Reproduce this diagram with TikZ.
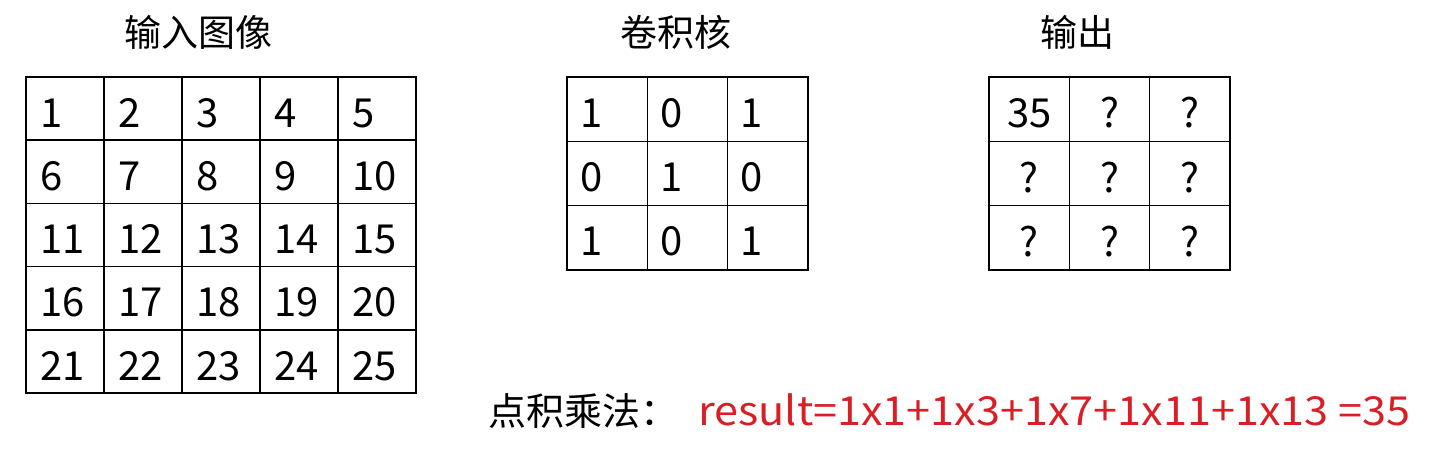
\documentclass[tikz,border=0pt]{standalone}
\usepackage{fontspec}
\setmainfont{Noto Sans CJK SC}
\definecolor{formulared}{RGB}{218,30,38}
\begin{document}
\begin{tikzpicture}[x=1pt,y=1pt,
  gridline/.style={black, line width=1.6pt},
  num/.style={anchor=west, inner sep=0pt, font=\fontsize{40}{40}\selectfont},
  qnum/.style={inner sep=0pt, font=\fontsize{40}{40}\selectfont},
  title/.style={inner sep=0pt, font=\fontsize{37}{37}\selectfont}]
\useasboundingbox (0,0) rectangle (1429,451);
% titles
\node[title] (tin) at (198,419) {输入图像};
\node[title] (tker) at (676,419) {卷积核};
\node[title] (tout) at (1077,419) {输出};
% input image
\foreach \r in {0,...,4} \foreach \c in {0,...,4} {
  \pgfmathtruncatemacro{\n}{5*\r+\c+1}
  \draw[gridline] (26+78*\c,374-63.2*\r) rectangle ++(78,-63.2);
  \node[num] (in\n) at (40+78*\c,338-63.2*\r) {\n};
}
% kernel
\foreach \r in {0,...,2} \foreach \c in {0,...,2} {
  \pgfmathtruncatemacro{\v}{1-mod(\r+\c,2)}
  \draw[gridline] (567+80.3*\c,374-64.3*\r) rectangle ++(80.3,-64.3);
  \node[num] (k\r\c) at (580+80.3*\c,338-64.3*\r) {\v};
}
% output
\foreach \r in {0,...,2} \foreach \c in {0,...,2} {
  \draw[gridline] (989+80.3*\c,374-64.3*\r) rectangle ++(80.3,-64.3);
  \node[qnum] (o\r\c) at (1029.2+80.3*\c,338-64.3*\r) {\ifnum\r\c=0 35\else ?\fi};
}
% formula
\node[anchor=base west, inner sep=0pt, font=\fontsize{38}{38}\selectfont] (dot) at (488,26) {点积乘法：};
\node[anchor=base west, inner sep=0pt, text=formulared, font=\fontsize{40}{40}\selectfont] (res) at (698,26) {\scalebox{1.08}[1]{result=1x1+1x3+1x7+1x11+1x13 =35}};
\end{tikzpicture}
\end{document}
